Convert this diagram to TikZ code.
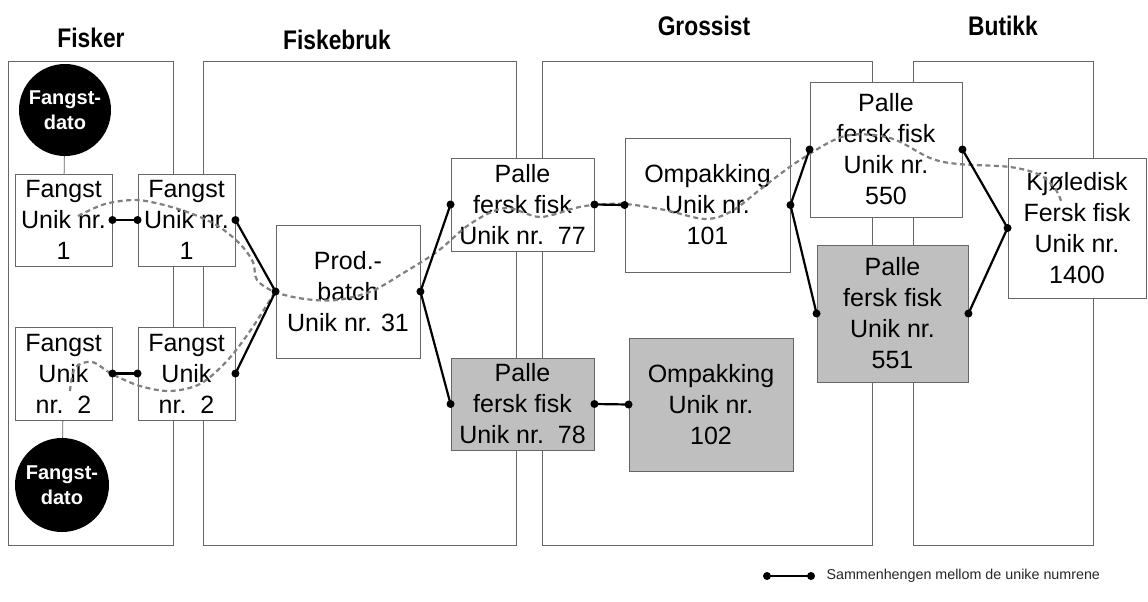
\documentclass[tikz,border=0pt]{standalone}
\usepackage{fontspec}
\usepackage{graphicx}
\setmainfont{Liberation Sans}
\begin{document}
\begin{tikzpicture}[x=1pt,y=-1pt,
  panel/.style={draw=black!60, line width=1pt, fill=white},
  header/.style={font=\fontsize{24}{28}\selectfont\bfseries},
  box/.style={draw=black!60, line width=0.9pt, fill=white, align=center, inner sep=0pt,
    font=\fontsize{25}{31}\selectfont},
  graybox/.style={box, fill=black!25},
  datecircle/.style={circle, fill=black, text=white, align=center, inner sep=0pt,
    font=\fontsize{20}{25}\selectfont\bfseries},
  thinlink/.style={draw=black!60, line width=0.8pt},
  link/.style={line width=2.2pt, black},
  trace/.style={draw=black!50, line width=2.2pt, dash pattern=on 5pt off 3.5pt},
  legendtext/.style={font=\fontsize{14.3}{18}\selectfont, anchor=west, text=black!85}
]
\useasboundingbox (0,0) rectangle (1148,602);

% panels
\node[panel, minimum width=165pt, minimum height=483pt, inner sep=0pt] (pFisker) at (90.5,303.5) {};
\node[panel, minimum width=313pt, minimum height=483pt, inner sep=0pt] (pBruk) at (359.5,303.5) {};
\node[panel, minimum width=330pt, minimum height=483pt, inner sep=0pt] (pGross) at (707,303.5) {};
\node[panel, minimum width=180pt, minimum height=483pt, inner sep=0pt] (pButikk) at (1003,303.5) {};

% headers
\node[header] (hFisker) at (91,38) {\scalebox{0.95}[1.12]{Fisker}};
\node[header] (hBruk) at (337,40) {\scalebox{0.95}[1.12]{Fiskebruk}};
\node[header] (hGross) at (704,26) {\scalebox{0.95}[1.12]{Grossist}};
\node[header] (hButikk) at (1003,26) {\scalebox{0.95}[1.12]{Butikk}};

% boxes
\node[box, minimum width=97pt, minimum height=92pt] (F1a) at (63.5,220) {Fangst\\Unik nr.\\1};
\node[box, minimum width=97pt, minimum height=92pt] (F1b) at (186.5,220) {Fangst\\Unik nr.\\1};
\node[box, minimum width=97pt, minimum height=93pt] (F2a) at (63.5,373.5) {Fangst\\Unik\\nr.~~2};
\node[box, minimum width=97pt, minimum height=93pt] (F2b) at (186.5,373.5) {Fangst\\Unik\\nr.~~2};
\node[box, minimum width=144pt, minimum height=133pt] (Prod) at (348,291.5) {Prod.-\\batch\\Unik nr. 31};
\node[box, minimum width=143pt, minimum height=93pt] (P77) at (522.5,204.5) {Palle\\fersk fisk\\Unik nr.~~77};
\node[graybox, minimum width=143pt, minimum height=92pt] (P78) at (522.5,404) {Palle\\fersk fisk\\Unik nr.~~78};
\node[box, minimum width=165pt, minimum height=134pt] (O101) at (707.5,205) {Ompakking\\Unik nr.\\101};
\node[graybox, minimum width=164pt, minimum height=133pt] (O102) at (711,404.5) {Ompakking\\Unik nr.\\102};
\node[box, minimum width=152pt, minimum height=135pt] (P550) at (886,149.5) {Palle\\fersk fisk\\Unik nr.\\550};
\node[graybox, minimum width=151pt, minimum height=137pt] (P551) at (892.5,313.5) {Palle\\fersk fisk\\Unik nr.\\551};
\node[box, minimum width=138pt, minimum height=140pt] (K) at (1077,228) {Kjøledisk\\Fersk fisk\\Unik nr.\\1400};

% date circles
\node[datecircle, minimum size=92pt] (C1) at (65,110) {Fangst-\\dato};
\node[datecircle, minimum size=94pt] (C2) at (62,485) {Fangst-\\dato};
\draw[thinlink] (C1) -- (F1a);
\draw[thinlink] (C2) -- (F2a);

% traced path (dashed)
\draw[trace] plot[smooth, tension=0.55] coordinates {
  (78,216) (105,204) (135,200) (160,204) (190,213) (218,226) (240,244) (253,262) (257,280)
  (275,292) (305,299) (337,300) (372,291) (405,272) (438,251) (470,224) (505,208) (540,217)
  (575,208) (594,205) (625,204) (665,210) (705,219) (732,211) (762,188) (800,160) (845,136)
  (890,138) (930,158) (958,164) (1010,167) (1040,175) (1056,190) (1062,204)};
\draw[trace] plot[smooth, tension=0.55] coordinates {
  (70,391) (75,368) (92,362) (112,374) (140,386) (170,391) (200,384) (226,362) (248,334)
  (265,308) (275,292)};

% links
\draw[link] (F1a.east) -- (F1b.west);
\draw[link] (F2a.east) -- (F2b.west);
\draw[link] (F1b.east) -- (Prod.west);
\draw[link] (F2b.east) -- (Prod.west);
\draw[link] (Prod.east) -- (P77.west);
\draw[link] (Prod.east) -- (P78.west);
\draw[link] (P77.east) -- (O101.west);
\draw[link] (P78.east) -- (O102.west);
\draw[link] (O101.east) -- (P550.west);
\draw[link] (O101.east) -- (P551.west);
\draw[link] (P550.east) -- (K.west);
\draw[link] (P551.east) -- (K.west);
\foreach \a in {F1a.east,F1b.west,F1b.east,F2a.east,F2b.west,F2b.east,Prod.west,Prod.east,
  P77.west,P77.east,P78.west,P78.east,O101.west,O101.east,O102.west,P550.west,P550.east,
  P551.west,P551.east,K.west}
  \fill (\a) circle (4pt);

% legend
\coordinate (L1) at (767,576);
\coordinate (L2) at (811,576);
\draw[link] (L1) -- (L2);
\fill (L1) circle (4pt);
\fill (L2) circle (4pt);
\node[legendtext] (Ltext) at (823,576) {Sammenhengen mellom de unike numrene};
\end{tikzpicture}
\end{document}
